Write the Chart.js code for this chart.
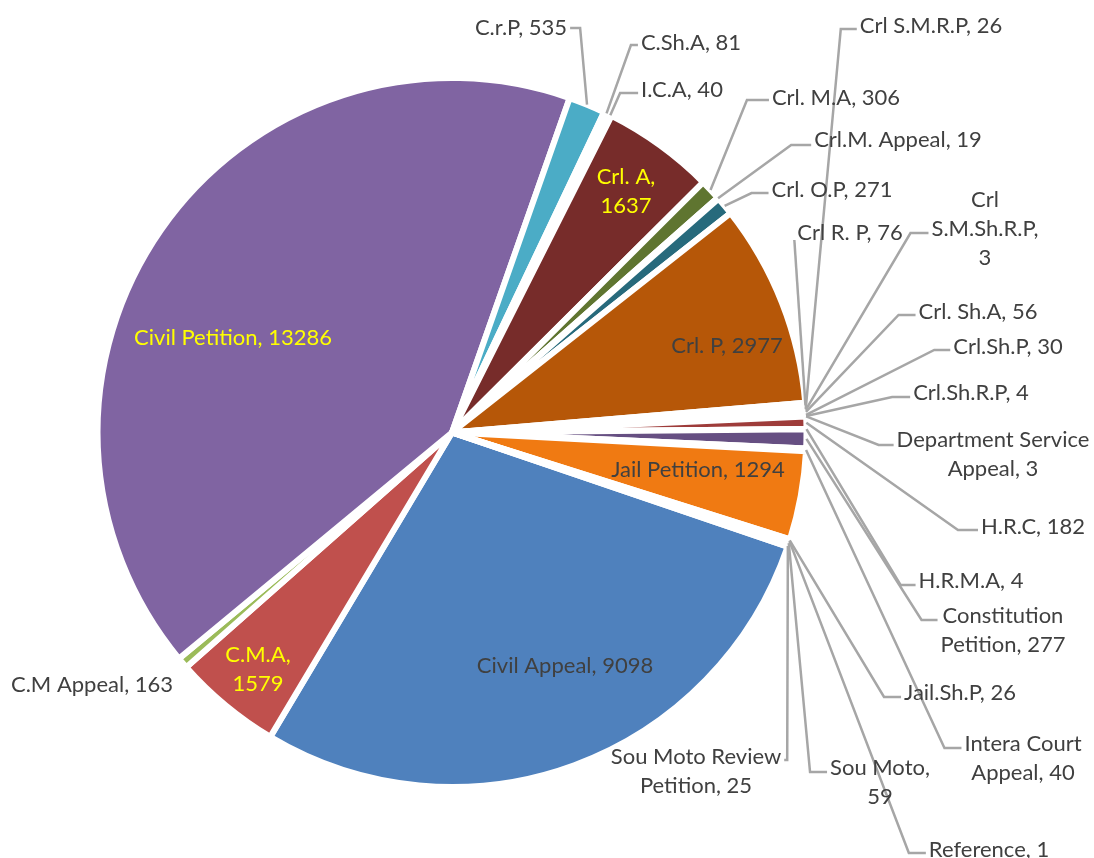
<!DOCTYPE html>
<html>
<head>
<meta charset="utf-8">
<script src="https://cdn.jsdelivr.net/npm/chart.js@4.4.1/dist/chart.umd.min.js"></script>
<style>
  html, body { margin: 0; padding: 0; background: #fff; }
</style>
</head>
<body>
<canvas id="myChart" width="1094" height="858"></canvas>
<script>

// case types, in the order of the source sheet (pie runs clockwise)
const categories = [
	'Civil Appeal', 'C.M.A', 'C.M Appeal', 'Civil Petition', 'C.r.P', 'C.Sh.A', 'I.C.A',
	'Crl. A', 'Crl. M.A', 'Crl.M. Appeal', 'Crl. O.P', 'Crl. P', 'Crl R. P', 'Crl S.M.R.P',
	'Crl S.M.Sh.R.P', 'Crl. Sh.A', 'Crl.Sh.P', 'Crl.Sh.R.P', 'Department Service Appeal',
	'H.R.C', 'H.R.M.A', 'Constitution Petition', 'Intera Court Appeal', 'Jail Petition',
	'Jail.Sh.P', 'Reference', 'Sou Moto', 'Sou Moto Review Petition'
];

const caseCounts = [
	9098, 1579, 163, 13286, 535, 81, 40,
	1637, 306, 19, 271, 2977, 76, 26,
	3, 56, 30, 4, 3,
	182, 4, 277, 40, 1294,
	26, 1, 59, 25
];

const sliceColors = [
	'#4F81BD', '#C0504D', '#9BBB59', '#8064A2', '#4BACC6', '#F79646', '#2C4D75',
	'#772C2A', '#5F7530', '#4D3B62', '#276A7C', '#B65708', '#729ACA', '#CD7371',
	'#AFC97A', '#9983B5', '#6FBDD1', '#F9AB6B', '#3A679C',
	'#9E3C3A', '#7C9A44', '#664F82', '#3C8DA3', '#F07A12',
	'#2F5480', '#8E3431', '#4F6228', '#3F3151'
];

// where excel put each data label (text centre), leader side / elbow
const labelSpots = [
	{x: 565, y: 666},
	{x: 258, y: 669, br: [1], yellow: true},
	{x: 92, y: 685},
	{x: 233, y: 338, yellow: true},
	{x: 521, y: 28, side: 'r', ay: 28, elbow: 10},
	{x: 691, y: 43, side: 'l', ay: 45, elbow: 7},
	{x: 682, y: 90, side: 'l', ay: 93, elbow: 18},
	{x: 626, y: 191, br: [2], yellow: true},
	{x: 836, y: 98, side: 'l', ay: 100, elbow: 22},
	{x: 898, y: 140, side: 'l', ay: 145, elbow: 20},
	{x: 832, y: 190, side: 'l', ay: 193, elbow: 17},
	{x: 727, y: 346},
	{x: 850, y: 233, side: 'l', ay: 240, elbow: 0},
	{x: 931, y: 26, side: 'l', ay: 29, elbow: 16},
	{x: 985, y: 229, br: [1, 2], side: 'l', ay: 233, elbow: 18},
	{x: 978, y: 312, side: 'l', ay: 315, elbow: 17},
	{x: 1008, y: 347, side: 'l', ay: 350, elbow: 16},
	{x: 971, y: 393, side: 'l', ay: 397, elbow: 18},
	{x: 993, y: 454, br: [2], side: 'l', ay: 445, elbow: 15},
	{x: 1033, y: 527, side: 'l', ay: 530, elbow: 20},
	{x: 971, y: 581, side: 'l', ay: 585, elbow: 15},
	{x: 1003, y: 630, br: [1], side: 'l', ay: 620, elbow: 16},
	{x: 1023, y: 758, br: [2], side: 'l', ay: 748, elbow: 17},
	{x: 698, y: 470},
	{x: 960, y: 693, side: 'l', ay: 697, elbow: 17},
	{x: 989, y: 850, side: 'l', ay: 853, elbow: 17},
	{x: 880, y: 782, br: [2], side: 'l', ay: 772, elbow: 17},
	{x: 696, y: 771, br: [3], side: 'r', ay: 760, elbow: 3}
];

const fontName = 'Lato';
// size the font so the widest in-slice label is as wide as in the excel export
const probe = document.createElement('canvas').getContext('2d');
probe.font = '100px ' + fontName;
const fontPx = 100 * 198 / probe.measureText('Civil Petition, 13286').width;

function labelLines(i) {
	const words = (categories[i] + ', ' + caseCounts[i]).split(' ');
	const br = labelSpots[i].br || [];
	const out = [];
	let cur = [];
	words.forEach((w, k) => {
		cur.push(w);
		if (br.includes(k + 1)) { out.push(cur.join(' ')); cur = []; }
	});
	out.push(cur.join(' '));
	return out;
}

const pieLabels = {
	id: 'pieLabels',
	afterDatasetsDraw(chart) {
		const c = chart.ctx;
		const arcs = chart.getDatasetMeta(0).data;
		const lineH = 29;
		c.save();
		c.font = fontPx + 'px ' + fontName;

		// leader lines
		c.strokeStyle = '#A6A6A6';
		c.lineWidth = 2.5;
		labelSpots.forEach((s, i) => {
			if (!s.side) return;
			const lines = labelLines(i);
			const w = Math.max(...lines.map(t => c.measureText(t).width));
			const a = arcs[i];
			const mid = (a.startAngle + a.endAngle) / 2;
			const ax = a.x + Math.cos(mid) * a.outerRadius;
			const ay = a.y + Math.sin(mid) * a.outerRadius;
			const ex = s.side === 'l' ? s.x - w / 2 - 3 : s.x + w / 2 + 3;
			const kx = s.side === 'l' ? ex - s.elbow : ex + s.elbow;
			c.beginPath();
			c.moveTo(ax, ay);
			c.lineTo(kx, s.ay);
			c.lineTo(ex, s.ay);
			c.stroke();
		});

		// texts
		c.textAlign = 'center';
		c.textBaseline = 'middle';
		labelSpots.forEach((s, i) => {
			const lines = labelLines(i);
			c.fillStyle = s.yellow ? '#FFFF00' : '#404040';
			const top = s.y - (lines.length - 1) * lineH / 2;
			lines.forEach((t, k) => c.fillText(t, s.x, top + k * lineH));
		});
		c.restore();
	}
};

const ctx = document.getElementById('myChart').getContext('2d');

const config = new Chart(ctx, {
	type: 'pie',
	data: {
		labels: categories,
		datasets: [{
			data: caseCounts,
			backgroundColor: sliceColors,
			borderColor: '#ffffff',
			borderWidth: 6
		}]
	},
	options: {
		responsive: false,
		devicePixelRatio: 1,
		animation: false,
		rotation: 108.8,
		layout: {
			padding: {left: 94.5, right: 284.5, top: 75, bottom: 68}
		},
		plugins: {
			legend: {display: false},
			tooltip: {enabled: false}
		}
	},
	plugins: [pieLabels]
});

</script>
</body>
</html>
